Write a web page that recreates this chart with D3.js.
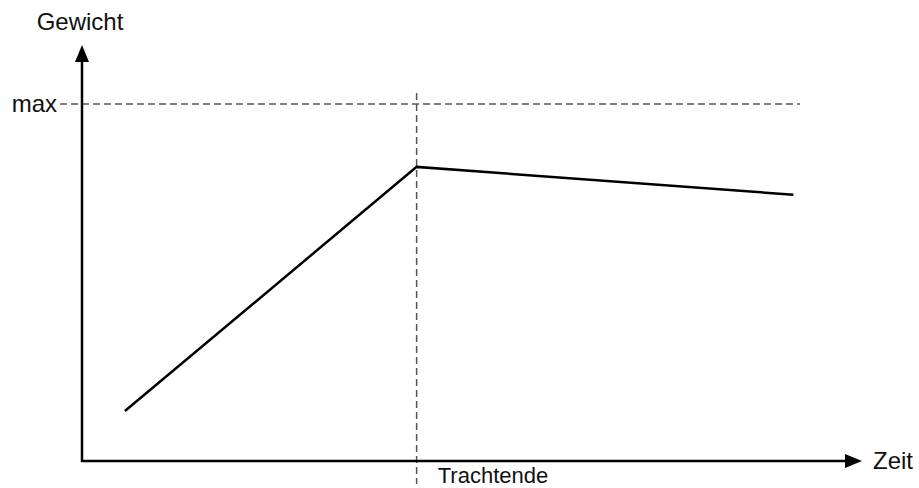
<!DOCTYPE html>
<html><head><meta charset="utf-8">
<script src="https://cdn.jsdelivr.net/npm/d3@7"></script>
<style>body{margin:0;background:#fff}svg{display:block}text{font-family:"Liberation Sans",Arial,sans-serif;fill:#111}</style>
</head><body>
<script>
const times = [5.5, 42.9, 91.2];
const weights = [12.0, 70.7, 64.0];
const maxLabel = "max";
const maxValue = 85.8;
const trachtendeTime = 42.9;
const trachtendeLabel = "Trachtende";
const xLabel = "Zeit";
const yLabel = "Gewicht";

const W = 919, H = 488;
const svg = d3.select("body").append("svg").attr("width", W).attr("height", H);
const x = d3.scaleLinear().domain([0, 100]).range([82, 862]);
const y = d3.scaleLinear().domain([0, 100]).range([461, 45]);

// dashed guides
svg.append("line").attr("x1", 60).attr("x2", 800).attr("y1", y(maxValue)).attr("y2", y(maxValue))
  .attr("stroke", "#555").attr("stroke-width", 1.5).attr("stroke-dasharray", "7,4");
svg.append("line").attr("x1", x(trachtendeTime)).attr("x2", x(trachtendeTime)).attr("y1", 93).attr("y2", 484)
  .attr("stroke", "#555").attr("stroke-width", 1.5).attr("stroke-dasharray", "7,4");

// axes
svg.append("line").attr("x1", x(0)).attr("x2", x(0)).attr("y1", y(0) + 1).attr("y2", y(100) + 12)
  .attr("stroke", "#000").attr("stroke-width", 2.5);
svg.append("path").attr("d", `M${x(0)},${y(100)} L${x(0) - 7},${y(100) + 17} L${x(0) + 7},${y(100) + 17} Z`).attr("fill", "#000");
svg.append("line").attr("x1", x(0) - 1).attr("x2", x(100) - 12).attr("y1", y(0)).attr("y2", y(0))
  .attr("stroke", "#000").attr("stroke-width", 2.5);
svg.append("path").attr("d", `M${x(100)},${y(0)} L${x(100) - 17},${y(0) - 7} L${x(100) - 17},${y(0) + 7} Z`).attr("fill", "#000");

// data line
const pts = times.map((t, i) => [t, weights[i]]);
svg.append("path").datum(pts)
  .attr("d", d3.line().x(d => x(d[0])).y(d => y(d[1])))
  .attr("fill", "none").attr("stroke", "#000").attr("stroke-width", 2.5).attr("stroke-linejoin", "miter");

// labels
svg.append("text").attr("x", 80).attr("y", 30).attr("text-anchor", "middle").attr("font-size", 24).text(yLabel);
svg.append("text").attr("x", 57).attr("y", y(maxValue) + 8).attr("text-anchor", "end").attr("font-size", 24).text(maxLabel);
svg.append("text").attr("x", 873).attr("y", y(0) + 8).attr("font-size", 24).text(xLabel);
svg.append("text").attr("x", 493).attr("y", 483).attr("text-anchor", "middle").attr("font-size", 22).text(trachtendeLabel);
</script>
</body></html>
